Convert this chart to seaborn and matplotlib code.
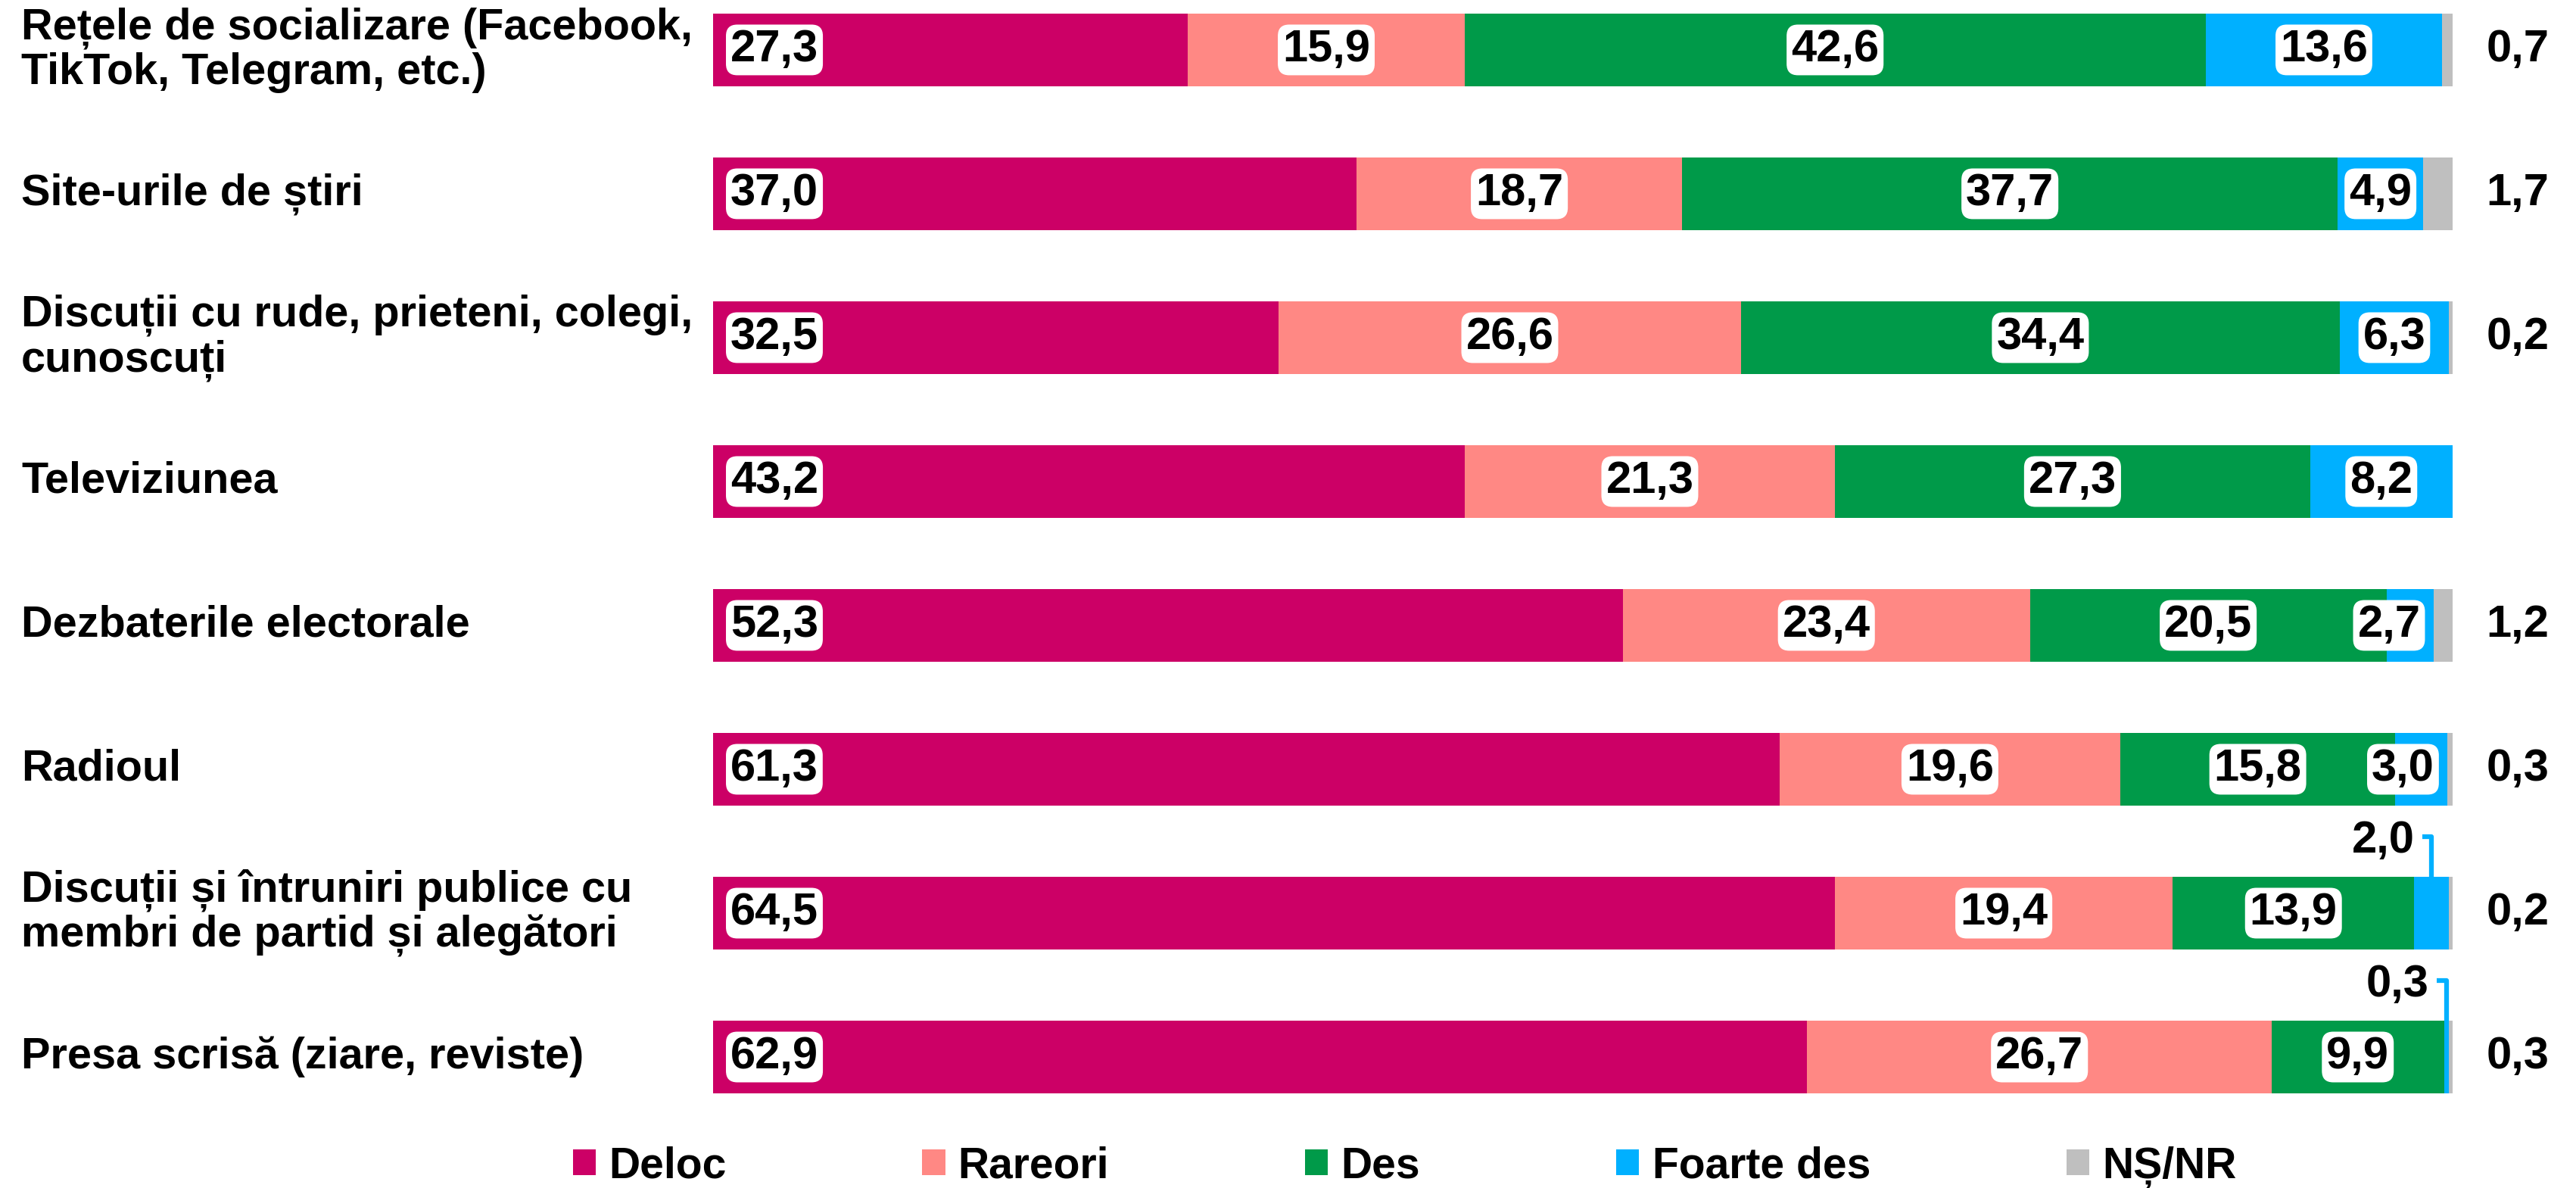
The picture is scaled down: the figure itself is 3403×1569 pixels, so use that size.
import matplotlib
matplotlib.use("Agg")
import matplotlib.pyplot as plt
import seaborn as sns
import pandas as pd
import numpy as np
from matplotlib.patches import Patch
from matplotlib.transforms import blended_transform_factory

categories = [
    "Rețele de socializare (Facebook,\nTikTok, Telegram, etc.)",
    "Site-urile de știri",
    "Discuții cu rude, prieteni, colegi,\ncunoscuți",
    "Televiziunea",
    "Dezbaterile electorale",
    "Radioul",
    "Discuții și întruniri publice cu\nmembri de partid și alegători",
    "Presa scrisă (ziare, reviste)",
]
deloc = [27.3, 37.0, 32.5, 43.2, 52.3, 61.3, 64.5, 62.9]
rareori = [15.9, 18.7, 26.6, 21.3, 23.4, 19.6, 19.4, 26.7]
des = [42.6, 37.7, 34.4, 27.3, 20.5, 15.8, 13.9, 9.9]
foarte_des = [13.6, 4.9, 6.3, 8.2, 2.7, 3.0, 2.0, 0.3]
ns_nr = [0.7, 1.7, 0.2, 0.0, 1.2, 0.3, 0.2, 0.3]
series_names = ["Deloc", "Rareori", "Des", "Foarte des", "NȘ/NR"]
colors = ["#CC0066", "#FF8884", "#009A49", "#00B0FF", "#BFBFBF"]

sns.set_theme(style="white")
plt.rcParams["font.family"] = ["Liberation Sans", "DejaVu Sans"]
plt.rcParams["font.weight"] = "bold"
plt.rcParams["text.color"] = "black"

W, H = 3403, 1569
fig = plt.figure(figsize=(W / 100, H / 100), dpi=100)
fig.patch.set_facecolor("white")
ax = fig.add_axes([942 / W, 78 / H, (3240 - 942) / W, 1491 / H])

series = [deloc, rareori, des, foarte_des, ns_nr]
vals = np.array(series)
cum = np.cumsum(vals, axis=0)
starts = cum - vals

for k in reversed(range(len(series))):
    df = pd.DataFrame({"cat": categories, "v": cum[k]})
    sns.barplot(data=df, x="v", y="cat", orient="h", color=colors[k],
                saturation=1, width=0.505, errorbar=None, linewidth=0, ax=ax)

ax.set_xlim(0, 100)
ax.set_ylim(7.5, -0.347)
ax.axis("off")

def fmt(v):
    return f"{v:.1f}".replace(".", ",")

box = dict(boxstyle="round,pad=0.1,rounding_size=0.25", facecolor="white", edgecolor="none")
FS = 43

trans = blended_transform_factory(fig.transFigure, ax.transData)
for i, cat in enumerate(categories):
    ax.text(0.0082, i, cat, transform=trans, ha="left", va="center",
            fontsize=41.5, linespacing=1.1, fontweight="bold", color="black")

for i in range(len(categories)):
    ax.text(1.0, i, fmt(deloc[i]), ha="left", va="center", fontsize=FS,
            fontweight="bold", bbox=box, color="black")
    for k in (1, 2):
        c = starts[k, i] + vals[k, i] / 2
        ax.text(c, i, fmt(vals[k, i]), ha="center", va="center", fontsize=FS,
                fontweight="bold", bbox=box, color="black")
    v = vals[3, i]
    c = starts[3, i] + v / 2
    if v >= 4:
        ax.text(c, i, fmt(v), ha="center", va="center", fontsize=FS,
                fontweight="bold", bbox=box, color="black")
    elif v >= 2.5:
        ax.text(cum[3, i] - 0.75, i, fmt(v), ha="right", va="center", fontsize=FS,
                fontweight="bold", bbox=box, color="black")
    else:
        ax.text(c - 1.0, i - 0.505, fmt(v), ha="right", va="center", fontsize=FS,
                fontweight="bold", clip_on=False, color="black")
        ax.plot([c - 0.55, c, c], [i - 0.532, i - 0.532, i - 0.2525],
                color=colors[3], lw=4.5, solid_joinstyle="round",
                solid_capstyle="butt", clip_on=False)
    if ns_nr[i] > 0:
        ax.text(105.55, i, fmt(ns_nr[i]), ha="right", va="center", fontsize=FS,
                fontweight="bold", clip_on=False, color="black")

handles = [Patch(facecolor=c, edgecolor="none") for c in colors]
leg = fig.legend(handles, series_names, loc="center", bbox_to_anchor=(0.5453, 0.018),
                 ncol=5, frameon=False, fontsize=41, handlelength=0.53, handleheight=0.53,
                 handletextpad=0.3, columnspacing=4.55, borderpad=0, borderaxespad=0)
for t in leg.get_texts():
    t.set_color("black")

fig.savefig("out.png", dpi=100, facecolor="white")
